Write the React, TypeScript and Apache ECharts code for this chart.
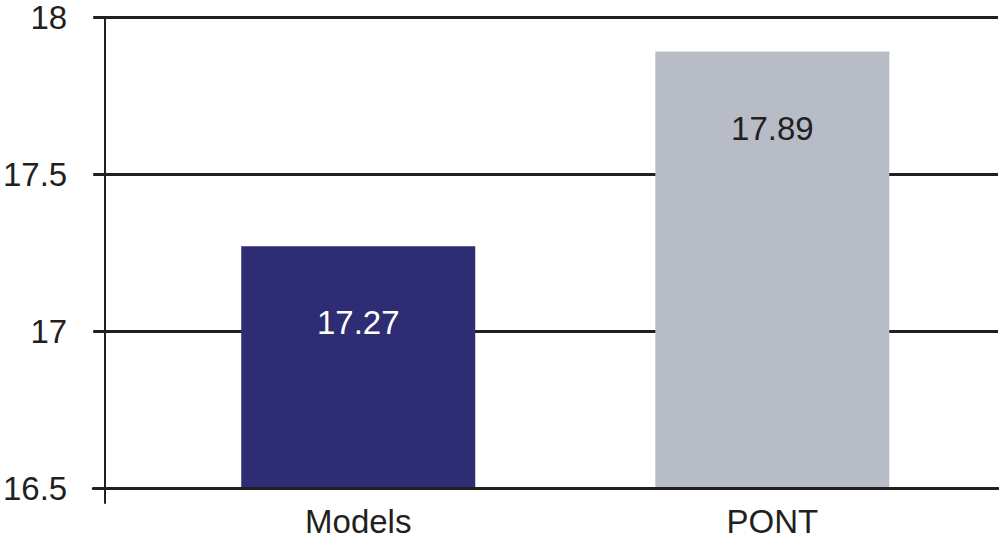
import React, { useEffect, useRef } from 'react';
import * as echarts from 'echarts';

const categories = ['Models', 'PONT'];
const values = [17.27, 17.89];
const yTicks = [16.5, 17, 17.5, 18];

const barColors = ['#2e2d73', '#b8bcc6'];
const labelColors = ['#ffffff', '#231f20'];
const ink = '#231f20';
const font = '"Liberation Sans", Arial, Helvetica, sans-serif';

export default function App() {
  const chartRef = useRef<HTMLDivElement>(null);

  useEffect(() => {
    if (!chartRef.current) return;
    const chart = echarts.init(chartRef.current, undefined, { renderer: 'svg' });

    const option: echarts.EChartsOption = {
      animation: false,
      backgroundColor: '#ffffff',
      textStyle: { fontFamily: font },
      grid: [
        // main plot: gridlines run from 88 to 998
        { left: 88, right: 1, top: 17, height: 471, containLabel: false },
        // thin grid only carrying the vertical axis line (runs a bit past the base)
        { left: 105, width: 1, top: 17, bottom: 39, containLabel: false },
      ],
      xAxis: [
        {
          gridIndex: 0,
          type: 'value',
          min: -0.64,
          max: 1.545,
          z: 5,
          axisLine: { show: true, onZero: false, lineStyle: { color: ink, width: 3 } },
          axisTick: { show: false },
          splitLine: { show: false },
          axisLabel: {
            customValues: categories.map((_, i) => i),
            formatter: (v: number) => categories[Math.round(v)] ?? '',
            color: ink,
            fontSize: 33,
            fontFamily: font,
            margin: 17,
          },
        },
        {
          gridIndex: 1,
          type: 'value',
          show: false,
        },
      ],
      yAxis: [
        {
          gridIndex: 0,
          type: 'value',
          min: yTicks[0],
          max: yTicks[yTicks.length - 1],
          interval: 0.5,
          axisLine: { show: false },
          axisTick: { show: false },
          splitLine: { show: true, lineStyle: { color: ink, width: 3 } },
          axisLabel: {
            color: ink,
            fontSize: 33,
            fontFamily: font,
            margin: 26,
            formatter: (v: number) => String(v),
          },
        },
        {
          gridIndex: 1,
          type: 'value',
          min: 0,
          max: 1,
          axisLine: { show: true, lineStyle: { color: ink, width: 2 } },
          axisTick: { show: false },
          axisLabel: { show: false },
          splitLine: { show: false },
        },
      ],
      series: [
        {
          type: 'bar',
          xAxisIndex: 0,
          yAxisIndex: 0,
          barWidth: 234,
          data: categories.map((_, i) => ({
            value: [i, values[i]],
            itemStyle: { color: barColors[i] },
            label: { color: labelColors[i] },
          })),
          label: {
            show: true,
            position: 'insideTop',
            distance: 60,
            fontSize: 33,
            fontFamily: font,
            formatter: (p: any) => p.value[1].toFixed(2),
          },
        },
      ],
    };

    chart.setOption(option);

    return () => {
      chart.dispose();
    };
  }, []);

  return (
    <div
      ref={chartRef}
      style={{ position: 'fixed', left: 0, top: 0, width: '999px', height: '542px' }}
    />
  );
}
